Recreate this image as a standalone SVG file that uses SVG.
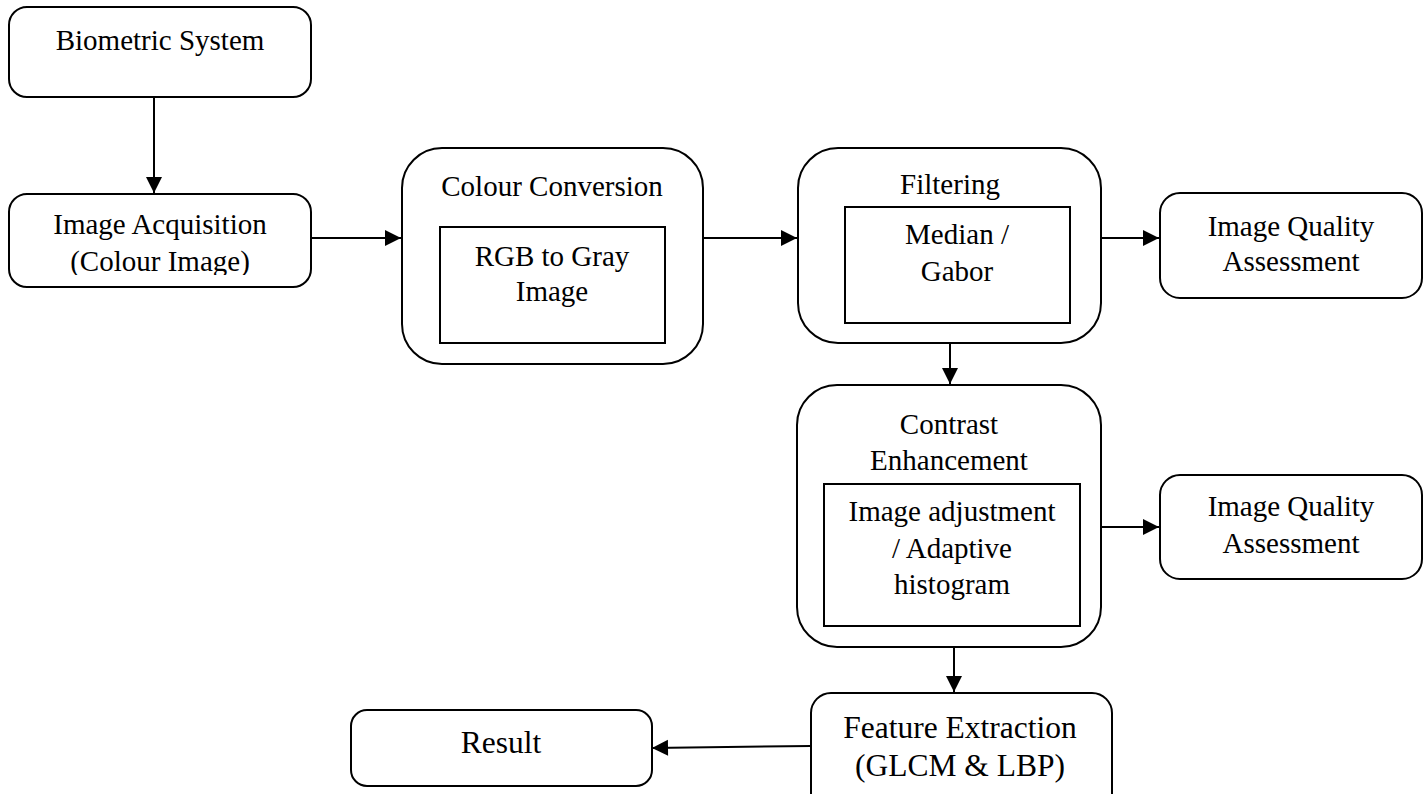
<svg xmlns="http://www.w3.org/2000/svg" width="1426" height="794" viewBox="0 0 1426 794">
<style>
.box{fill:#fff;stroke:#000;stroke-width:2}
.in{fill:none;stroke:#000;stroke-width:2}
.t{font-family:"Liberation Serif","Times New Roman",serif;font-size:29px;fill:#000;text-anchor:middle}
.tb{font-family:"Liberation Serif","Times New Roman",serif;font-size:31.5px;fill:#000;text-anchor:middle}
.c{stroke:#000;stroke-width:2;fill:none;marker-end:url(#ah)}
</style>
<defs>
<marker id="ah" markerUnits="userSpaceOnUse" markerWidth="17" markerHeight="16" refX="16" refY="8" orient="auto" overflow="visible">
<path d="M0,0 L16,8 L0,16 z" fill="#000"/>
</marker>
<clipPath id="clipAcq"><rect x="0" y="190" width="320" height="85"/></clipPath>
</defs>
<rect width="1426" height="794" fill="#fff"/>
<g id="connectors">
<line class="c" x1="154" y1="97" x2="154" y2="193"/>
<line class="c" x1="311" y1="238" x2="401" y2="238"/>
<line class="c" x1="703" y1="238" x2="797" y2="238"/>
<line class="c" x1="1101" y1="238" x2="1159" y2="238"/>
<line class="c" x1="950" y1="343" x2="950" y2="384"/>
<line class="c" x1="1101" y1="527" x2="1159" y2="527"/>
<line class="c" x1="954" y1="647" x2="954" y2="692"/>
<line class="c" x1="811" y1="746" x2="652" y2="748"/>
</g>
<g id="biometric">
<rect class="box" x="9" y="7" width="302" height="90" rx="18"/>
<text class="t" x="160" y="50">Biometric System</text>
</g>
<g id="acquisition">
<rect class="box" x="9" y="194" width="302" height="93" rx="18"/>
<g clip-path="url(#clipAcq)">
<text class="t" x="160" y="234">Image Acquisition</text>
<text class="t" x="160" y="271">(Colour Image)</text>
</g>
</g>
<g id="colour">
<rect class="box" x="402" y="148" width="301" height="216" rx="40"/>
<text class="t" x="552" y="196">Colour Conversion</text>
<rect class="in" x="440" y="227" width="225" height="116"/>
<text class="t" x="552" y="266">RGB to Gray</text>
<text class="t" x="552" y="301">Image</text>
</g>
<g id="filtering">
<rect class="box" x="798" y="148" width="303" height="195" rx="40"/>
<text class="t" x="950" y="194">Filtering</text>
<rect class="in" x="845" y="207" width="225" height="116"/>
<text class="t" x="957" y="244">Median /</text>
<text class="t" x="957" y="281">Gabor</text>
</g>
<g id="iqa1">
<rect class="box" x="1160" y="193" width="262" height="105" rx="20"/>
<text class="t" x="1291" y="236">Image Quality</text>
<text class="t" x="1291" y="271">Assessment</text>
</g>
<g id="contrast">
<rect class="box" x="797" y="385" width="304" height="262" rx="40"/>
<text class="t" x="949" y="434">Contrast</text>
<text class="t" x="949" y="470">Enhancement</text>
<rect class="in" x="824" y="484" width="256" height="142"/>
<text class="t" x="952" y="521">Image adjustment</text>
<text class="t" x="952" y="558">/ Adaptive</text>
<text class="t" x="952" y="594">histogram</text>
</g>
<g id="iqa2">
<rect class="box" x="1160" y="475" width="262" height="104" rx="20"/>
<text class="t" x="1291" y="516">Image Quality</text>
<text class="t" x="1291" y="553">Assessment</text>
</g>
<g id="feature">
<rect class="box" x="811" y="693" width="301" height="120" rx="20"/>
<text class="tb" x="960" y="738">Feature Extraction</text>
<text class="tb" x="960" y="776">(GLCM &amp; LBP)</text>
</g>
<g id="result">
<rect class="box" x="351" y="710" width="301" height="76" rx="16"/>
<text class="tb" x="501" y="753">Result</text>
</g>
</svg>
